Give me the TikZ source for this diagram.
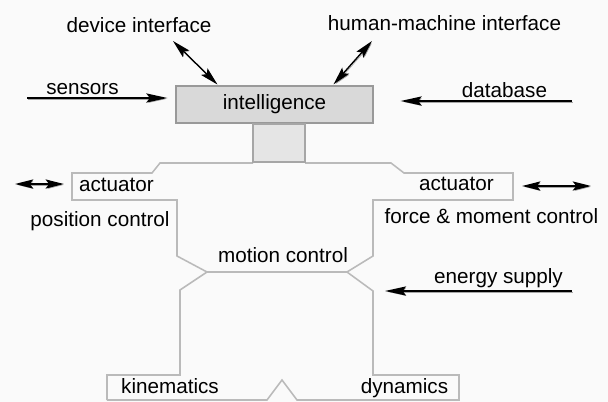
\documentclass[tikz,border=0pt]{standalone}
\usepackage{fontspec}
\setmainfont{Liberation Sans}
\usetikzlibrary{arrows.meta,calc}

\tikzset{
	lbl/.style={font=\fontsize{14.7}{17}\selectfont, inner sep=0pt, anchor=base},
	rim/.style={draw=black!27, line width=1.1pt, line join=miter},
	shade/.style={preaction={draw=black!35, transform canvas={shift={(0.7pt,-0.7pt)}}}},
	feed/.style={shade, line width=1.1pt, -{Stealth[length=15pt, width=6.5pt, inset=2.5pt]}},
	both/.style={shade, line width=1pt, {Stealth[length=13pt, width=6.5pt, inset=2.5pt]}-{Stealth[length=13pt, width=6.5pt, inset=2.5pt]}},
}

\begin{document}
\begin{tikzpicture}[x=0.025cm, y=-0.025cm]
		%%%%% START %%%%%
		
		\useasboundingbox[fill=black!2] (0, 0) rectangle (608, 402);
		
		% body outline
		\draw[rim] (107, 400) -- (107, 375) -- (180, 375) -- (180, 290) -- (207, 272) -- (177, 256) -- (177, 200)
			-- (72, 200) -- (72, 173) -- (152, 173) -- (160, 163) -- (253, 163);
		\draw[rim] (305, 163) -- (391, 163) -- (404, 173) -- (513, 173) -- (513, 200) -- (373, 200) -- (373, 256)
			-- (347, 272) -- (373, 291) -- (373, 375) -- (459, 375) -- (459, 400) -- (297, 400) -- (282, 380)
			-- (267, 400) -- (107, 400);
		\draw[rim] (207, 272) -- (347, 272);
		
		% head
		\node[draw=black!40, fill=black!15, line width=0.8pt, minimum width=4.925cm, minimum height=0.925cm,
			font=\fontsize{14.7}{17}\selectfont] (intel) at (274.5, 104.5) {intelligence};
		\node[draw=black!35, fill=black!10, line width=0.8pt, minimum width=1.3cm, minimum height=0.95cm] (neck) at (279, 143) {};
		
		% texts
		\node[lbl] (dev) at (139, 32) {device interface};
		\node[lbl] (hmi) at (444.5, 30) {human-machine interface};
		\node[lbl] (sens) at (82.5, 94) {sensors};
		\node[lbl] (db) at (504.5, 97) {database};
		\node[lbl] (actL) at (116.5, 191) {actuator};
		\node[lbl] (actR) at (456.5, 190) {actuator};
		\node[lbl] (posc) at (100, 226) {position control};
		\node[lbl] (forc) at (491.5, 223) {force \& moment control};
		\node[lbl] (motc) at (283, 262) {motion control};
		\node[lbl] (enrg) at (498.5, 283) {energy supply};
		\node[lbl] (kin) at (170, 393) {kinematics};
		\node[lbl] (dyn) at (404.5, 393) {dynamics};
		
		% arrows
		\coordinate (devA) at (173, 41);
		\coordinate (hmiA) at (372, 41);
		\coordinate (sensA) at (27, 98);
		\coordinate (dbA) at (572, 101);
		\coordinate (enA) at (572, 291);
		\coordinate (enB) at (385, 291);
		\coordinate (actLA) at (15, 184);
		\coordinate (actRA) at (591, 186);
		
		\draw[both, shorten >=1pt] (devA) -- ($(intel.north west)+(43, 0)$);
		\draw[both, shorten >=1pt] (hmiA) -- ($(intel.north east)+(-41, 0)$);
		\draw[feed, shorten >=0.2cm] (sensA) -- (sensA -| intel.west);
		\draw[feed, shorten >=0.675cm] (dbA) -- (dbA -| intel.east);
		\draw[feed] (enA) -- (enB);
		\draw[both, shorten >=0.375cm] (actLA) -- (actLA -| actL.west);
		\draw[both, shorten >=0.7cm] (actRA) -- (actRA -| actR.east);
		
		%%%%% END %%%%%
	\end{tikzpicture}
\end{document}
